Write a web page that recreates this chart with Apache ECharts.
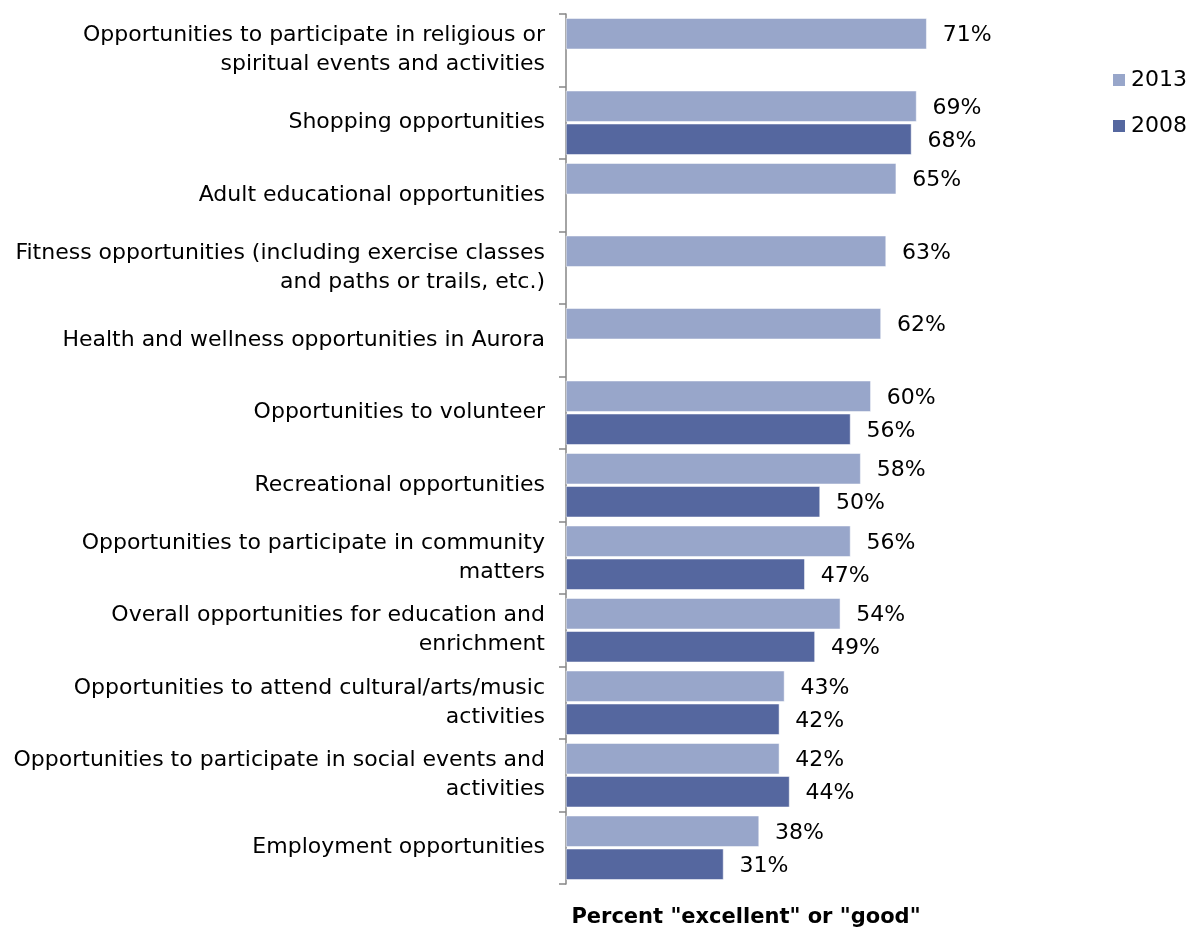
<!DOCTYPE html>
<html>
<head>
<meta charset="utf-8">
<script src="https://cdn.jsdelivr.net/npm/echarts@6/dist/echarts.min.js"></script>
<style>html,body{margin:0;padding:0;background:#fff}#c{width:1191px;height:930px}</style>
</head>
<body>
<div id="c"></div>
<script>
const categories = [
  "Opportunities to participate in religious or\nspiritual events and activities",
  "Shopping opportunities",
  "Adult educational opportunities",
  "Fitness opportunities (including exercise classes\nand paths or trails, etc.)",
  "Health and wellness opportunities in Aurora",
  "Opportunities to volunteer",
  "Recreational opportunities",
  "Opportunities to participate in community\nmatters",
  "Overall opportunities for education and\nenrichment",
  "Opportunities to attend cultural/arts/music\nactivities",
  "Opportunities to participate in social events and\nactivities",
  "Employment opportunities"
];
const values2013 = [71, 69, 65, 63, 62, 60, 58, 56, 54, 43, 42, 38];
const values2008 = [null, 68, null, null, null, 56, 50, 47, 49, 42, 44, 31];
const seriesNames = ["2013", "2008"];
const axisTitle = 'Percent "excellent" or "good"';

const FONT = "DejaVu Sans";
const chart = echarts.init(document.getElementById('c'));
const lbl = {
  show: true, position: 'right', distance: 16, offset: [0, 2],
  formatter: p => p.value == null ? '' : p.value + '%',
  color: '#000', fontFamily: FONT, fontSize: 22
};
chart.setOption({
  animation: false,
  textStyle: { fontFamily: FONT },
  title: {
    text: axisTitle, left: 746, top: 907, textAlign: 'center', padding: 0,
    textStyle: { fontFamily: FONT, fontSize: 21, fontWeight: 'bold', color: '#000' }
  },
  legend: {
    orient: 'vertical', left: 1111, top: 69, padding: 0,
    itemWidth: 14, itemHeight: 14, itemGap: 24,
    icon: 'rect',
    textStyle: { fontFamily: FONT, fontSize: 22, color: '#000' },
    data: seriesNames
  },
  grid: { left: 566, top: 14, bottom: 46, right: 117, containLabel: false },
  xAxis: {
    type: 'value', min: 0, max: 100,
    axisLine: { show: false }, axisTick: { show: false },
    axisLabel: { show: false }, splitLine: { show: false }
  },
  yAxis: {
    type: 'category', data: categories, inverse: true,
    axisLine: { show: true, lineStyle: { color: '#868686', width: 1.5 } },
    axisTick: { show: true, length: 7, lineStyle: { color: '#868686', width: 1.5 } },
    axisLabel: { fontFamily: FONT, fontSize: 22, color: '#000', margin: 21, lineHeight: 29, align: 'right' }
  },
  series: [
    { name: seriesNames[0], type: 'bar', data: values2013,
      barCategoryGap: '11.7%', barGap: '6.5%',
      itemStyle: { color: '#98A6CA', borderColor: '#fff', borderWidth: 0.5 },
      label: lbl },
    { name: seriesNames[1], type: 'bar', data: values2008,
      itemStyle: { color: '#55679F', borderColor: '#fff', borderWidth: 0.5 },
      label: lbl }
  ]
});
</script>
</body>
</html>
